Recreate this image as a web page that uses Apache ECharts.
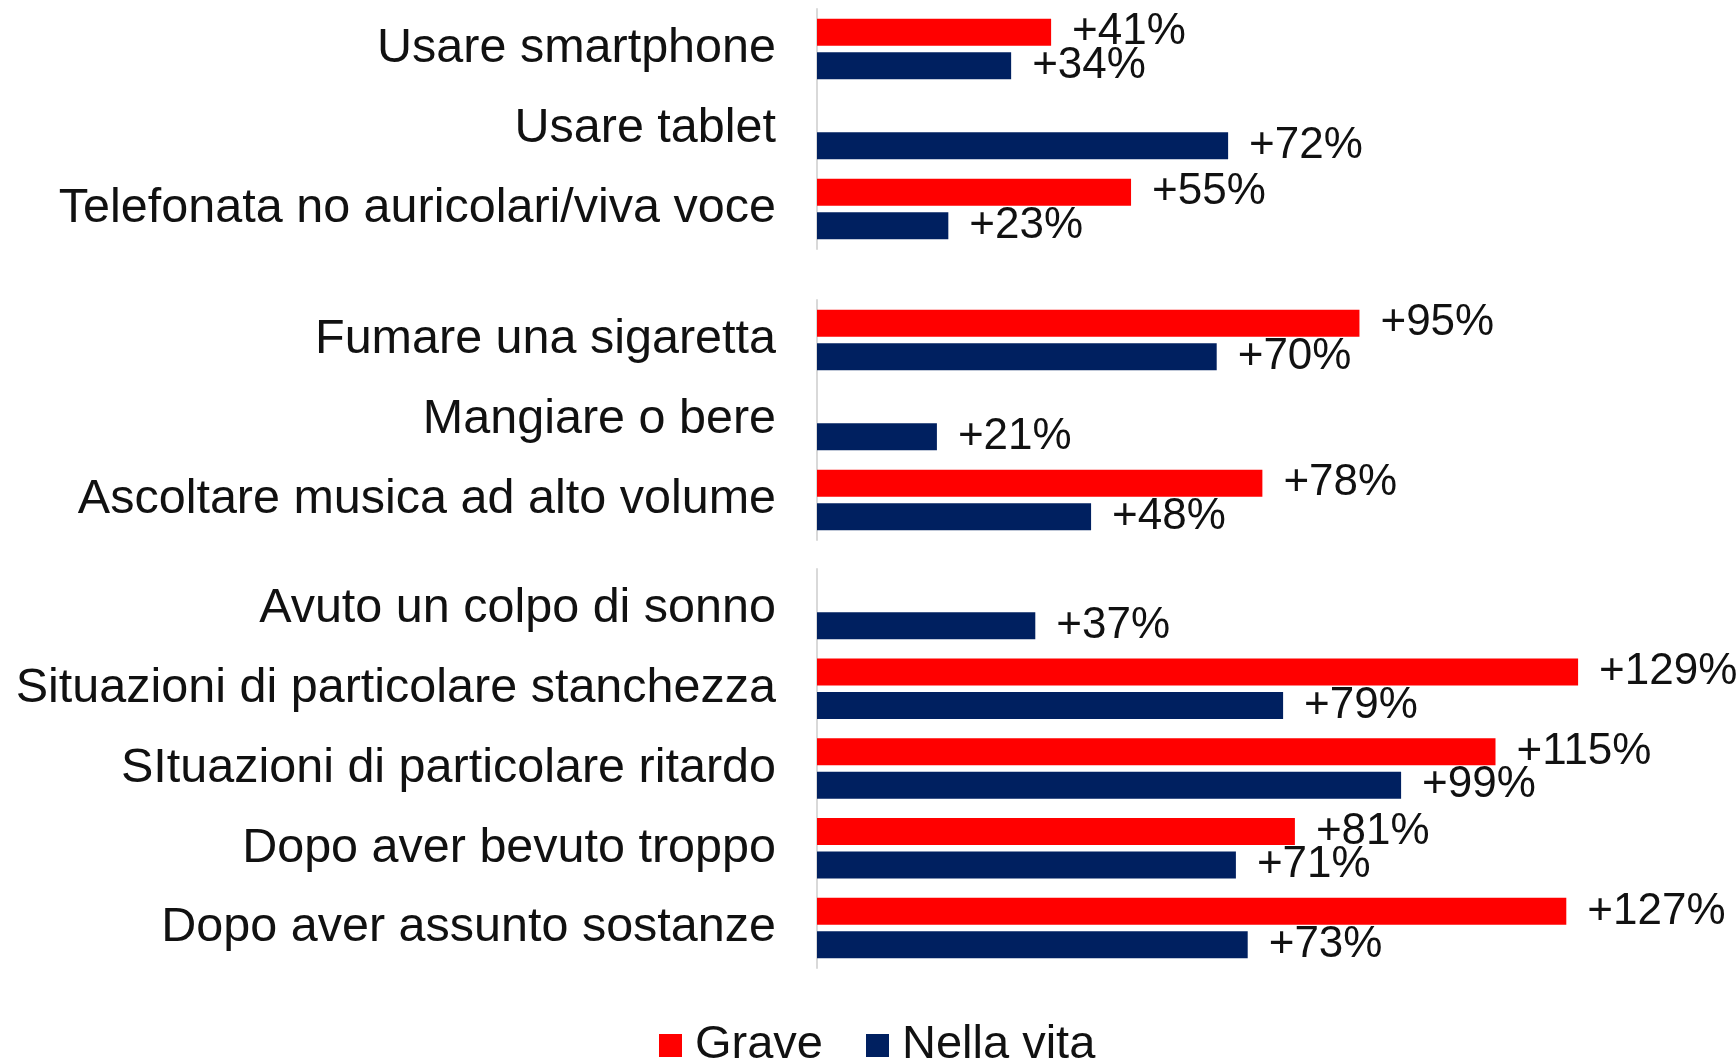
<!DOCTYPE html>
<html>
<head>
<meta charset="utf-8">
<script src="https://cdn.jsdelivr.net/npm/echarts@6/dist/echarts.min.js"></script>
<style>
html,body{margin:0;padding:0;background:#fff;}
#chart{width:1736px;height:1061px;}
</style>
</head>
<body>
<div id="chart"></div>
<script>
// ---- data ----
const seriesNames = ['Grave', 'Nella vita'];

const cats1 = ['Usare smartphone', 'Usare tablet', 'Telefonata no auricolari/viva voce'];
const grave1 = [41, null, 55];
const vita1 = [34, 72, 23];

const cats2 = ['Fumare una sigaretta', 'Mangiare o bere', 'Ascoltare musica ad alto volume'];
const grave2 = [95, null, 78];
const vita2 = [70, 21, 48];

const cats3 = ['Avuto un colpo di sonno', 'Situazioni di particolare stanchezza', 'SItuazioni di particolare ritardo', 'Dopo aver bevuto troppo', 'Dopo aver assunto sostanze'];
const grave3 = [null, 129, 115, 81, 127];
const vita3 = [37, 79, 99, 71, 73];

// ---- styles ----
const RED = '#FF0000';
const NAVY = '#002060';
const FONT = "'Liberation Sans', Arial, sans-serif";
const TEXT = '#111111';

const groups = [
  { cats: cats1, grave: grave1, vita: vita1, top: 9, height: 240, width: 856.5 },
  { cats: cats2, grave: grave2, vita: vita2, top: 300, height: 240, width: 856.5 },
  { cats: cats3, grave: grave3, vita: vita3, top: 569, height: 399, width: 885 }
];

const grid = [], xAxis = [], yAxis = [], series = [];
groups.forEach((g, i) => {
  grid.push({ left: 817, top: g.top, height: g.height, width: g.width, containLabel: false });
  xAxis.push({
    type: 'value', gridIndex: i, min: 0, max: 150, show: false,
    splitLine: { show: false }
  });
  yAxis.push({
    type: 'category', gridIndex: i, data: g.cats, inverse: true,
    axisLine: { show: true, lineStyle: { color: '#D9D9D9', width: 2 } },
    axisTick: { show: false },
    axisLabel: { color: TEXT, fontSize: 48.5, fontFamily: FONT, margin: 41 }
  });
  const lbl = {
    show: true, position: 'right', distance: 21,
    formatter: p => '+' + p.value + '%',
    color: TEXT, fontSize: 44, fontFamily: FONT
  };
  series.push({
    name: seriesNames[0], type: 'bar', xAxisIndex: i, yAxisIndex: i,
    data: g.grave, barWidth: 27, barGap: '24%',
    itemStyle: { color: RED }, label: lbl
  });
  series.push({
    name: seriesNames[1], type: 'bar', xAxisIndex: i, yAxisIndex: i,
    data: g.vita, barWidth: 27, barGap: '24%',
    itemStyle: { color: NAVY }, label: lbl
  });
});

const chart = echarts.init(document.getElementById('chart'), null, { renderer: 'canvas' });
chart.setOption({
  animation: false,
  backgroundColor: '#ffffff',
  legend: {
    data: seriesNames,
    left: 654, top: 1017,
    itemWidth: 23, itemHeight: 23, itemGap: 43,
    icon: 'rect',
    textStyle: { color: TEXT, fontSize: 47, fontFamily: FONT, padding: [0, 0, 0, 8] }
  },
  grid, xAxis, yAxis, series
});
</script>
</body>
</html>
